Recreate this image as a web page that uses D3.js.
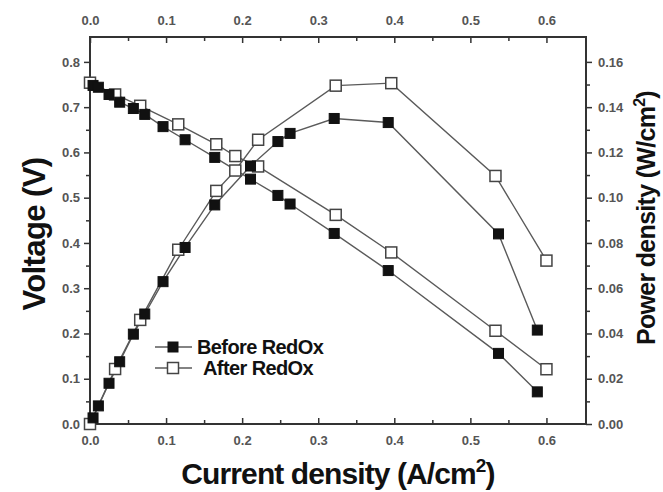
<!DOCTYPE html>
<html><head><meta charset="utf-8">
<script src="https://cdn.jsdelivr.net/npm/d3@7"></script>
<style>body{margin:0;background:#fff}svg{display:block}</style>
</head><body><svg id="c" width="663" height="492"></svg>
<script>
// ---- data ----
const beforeX = [0.004,0.011,0.025,0.039,0.057,0.072,0.096,0.125,0.164,0.211,0.247,0.263,0.321,0.392,0.537,0.588];
const beforeVoltage = [0.748,0.744,0.728,0.711,0.697,0.684,0.657,0.628,0.589,0.541,0.505,0.486,0.421,0.339,0.156,0.071];
const beforePower = [0.0027,0.0080,0.018,0.0275,0.0397,0.0486,0.0629,0.078,0.0968,0.114,0.1248,0.1284,0.135,0.1332,0.084,0.0415];
const afterX = [0,0.033,0.066,0.116,0.166,0.191,0.221,0.323,0.396,0.533,0.600];
const afterVoltage = [0.754,0.728,0.703,0.662,0.618,0.592,0.569,0.462,0.379,0.206,0.121];
const afterPower = [0,0.0243,0.046,0.077,0.103,0.112,0.1256,0.1495,0.1506,0.1096,0.0722];
const xTicks = [0,0.1,0.2,0.3,0.4,0.5,0.6];
const yTicks = [0,0.1,0.2,0.3,0.4,0.5,0.6,0.7,0.8];
const y2Ticks = [0,0.02,0.04,0.06,0.08,0.10,0.12,0.14,0.16];
const seriesNames = ["Before RedOx","After RedOx"];

// ---- layout ----
const L=90,R=586,T=37,B=424;
const svg=d3.select("#c");
const x=d3.scaleLinear().domain([0,0.652]).range([L,R]);
const y=d3.scaleLinear().domain([0,0.855]).range([B,T]);
const y2=d3.scaleLinear().domain([0,0.171]).range([B,T]);
const axisCol="#333", labCol="#555", lineCol="#5a5a5a";
const font="'Liberation Sans', Arial, sans-serif";

function styleAxis(g){
  g.select(".domain").remove();
  g.selectAll("line").attr("stroke",axisCol).attr("stroke-width",1.5);
  g.selectAll("text").attr("fill",labCol).attr("font-family",font).attr("font-size",13).attr("font-weight","bold");
}
const xMinor=d3.range(0.05,0.65,0.1);
const yMinor=d3.range(0.05,0.85,0.1);
const y2Minor=d3.range(0.01,0.17,0.02);

svg.append("g").attr("transform",`translate(0,${B})`)
  .call(d3.axisBottom(x).tickValues(xTicks).tickFormat(d3.format(".1f")).tickSizeInner(-6).tickPadding(12))
  .call(styleAxis);
svg.append("g").attr("transform",`translate(0,${B})`)
  .call(d3.axisBottom(x).tickValues(xMinor).tickFormat("").tickSizeInner(-4)).call(styleAxis);
svg.append("g").attr("transform",`translate(0,${T})`)
  .call(d3.axisTop(x).tickValues(xTicks).tickFormat(d3.format(".1f")).tickSizeInner(-6).tickPadding(12))
  .call(styleAxis);
svg.append("g").attr("transform",`translate(0,${T})`)
  .call(d3.axisTop(x).tickValues(xMinor).tickFormat("").tickSizeInner(-4)).call(styleAxis);
svg.append("g").attr("transform",`translate(${L},0)`)
  .call(d3.axisLeft(y).tickValues(yTicks).tickFormat(d3.format(".1f")).tickSizeInner(6).tickPadding(4))
  .call(styleAxis);
svg.append("g").attr("transform",`translate(${L},0)`)
  .call(d3.axisLeft(y).tickValues(yMinor).tickFormat("").tickSizeInner(4)).call(styleAxis);
svg.append("g").attr("transform",`translate(${R},0)`)
  .call(d3.axisRight(y2).tickValues(y2Ticks).tickFormat(d3.format(".2f")).tickSizeInner(6).tickPadding(6))
  .call(styleAxis);
svg.append("g").attr("transform",`translate(${R},0)`)
  .call(d3.axisRight(y2).tickValues(y2Minor).tickFormat("").tickSizeInner(4)).call(styleAxis);

svg.append("rect").attr("x",L).attr("y",T).attr("width",R-L).attr("height",B-T)
  .attr("fill","none").attr("stroke",axisCol).attr("stroke-width",2);

// ---- series ----
function series(xs,ys,scale){
  const pts=xs.map((d,i)=>[d,ys[i]]);
  svg.append("path").datum(pts)
    .attr("d",d3.line().x(d=>x(d[0])).y(d=>scale(d[1])))
    .attr("fill","none").attr("stroke",lineCol).attr("stroke-width",1.4);
  return pts;
}
function markers(pts,scale,filled){
  const s=filled?10:11;
  svg.append("g").selectAll("rect").data(pts).join("rect")
    .attr("x",d=>x(d[0])-s/2).attr("y",d=>scale(d[1])-s/2)
    .attr("width",s).attr("height",s)
    .attr("fill",filled?"#111":"#fff")
    .attr("stroke",filled?"#111":"#444").attr("stroke-width",filled?1:1.5);
}
const p1=series(afterX,afterVoltage,y);
const p2=series(afterX,afterPower,y2);
const p3=series(beforeX,beforeVoltage,y);
const p4=series(beforeX,beforePower,y2);
markers(p1,y,false);markers(p2,y2,false);
markers(p3,y,true);markers(p4,y2,true);

// ---- legend ----
const leg=[{n:seriesNames[0],f:true,yy:347,tx:197},{n:seriesNames[1],f:false,yy:368,tx:203}];
leg.forEach(l=>{
  svg.append("line").attr("x1",155).attr("x2",192).attr("y1",l.yy).attr("y2",l.yy)
    .attr("stroke",lineCol).attr("stroke-width",1.4);
  const s=l.f?10:11;
  svg.append("rect").attr("x",173-s/2).attr("y",l.yy-s/2).attr("width",s).attr("height",s)
    .attr("fill",l.f?"#111":"#fff").attr("stroke",l.f?"#111":"#444").attr("stroke-width",l.f?1:1.5);
  svg.append("text").attr("x",l.tx).attr("y",l.yy+7).text(l.n)
    .attr("font-family",font).attr("font-size",20).attr("font-weight","bold")
    .attr("letter-spacing",-0.6).attr("fill","#111");
});

// ---- axis titles ----
const tf=30;
const xt=svg.append("text").attr("x",338).attr("y",484).attr("text-anchor","middle")
  .attr("font-family",font).attr("font-size",tf).attr("font-weight","bold").attr("letter-spacing",-0.9).attr("fill","#111");
xt.append("tspan").text("Current density (A/cm");
xt.append("tspan").text("2").attr("font-size",19).attr("dy",-12);
xt.append("tspan").text(")").attr("dy",12);

svg.append("text").attr("transform","translate(45,234) rotate(-90)").attr("text-anchor","middle")
  .attr("font-family",font).attr("font-size",tf+1).attr("font-weight","bold").attr("letter-spacing",-0.6).attr("fill","#111")
  .text("Voltage (V)");

const yt=svg.append("text").attr("transform","translate(655,218) rotate(-90)").attr("text-anchor","middle")
  .attr("font-family",font).attr("font-size",25).attr("font-weight","bold").attr("letter-spacing",-0.7).attr("fill","#111");
yt.append("tspan").text("Power density (W/cm");
yt.append("tspan").text("2").attr("font-size",16).attr("dy",-10);
yt.append("tspan").text(")").attr("dy",10);
</script></body></html>
